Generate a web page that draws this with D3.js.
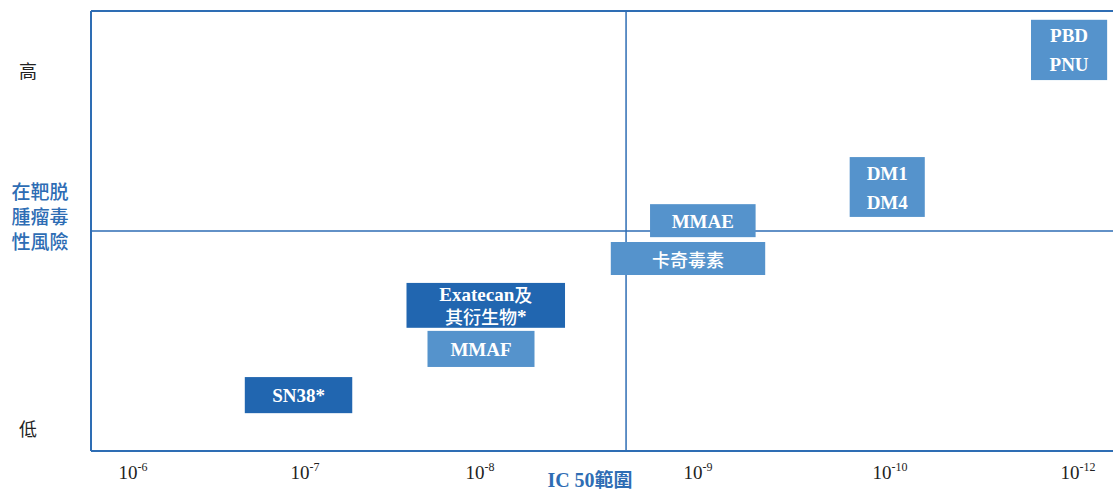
<!DOCTYPE html>
<html><head><meta charset="utf-8">
<script src="https://cdn.jsdelivr.net/npm/d3@7"></script>
<style>body{margin:0;background:#fff}</style>
</head><body>
<svg id="c" width="1113" height="491"></svg>
<script>
// ---- data ----
const payloads = ["SN38*", "Exatecan及|其衍生物*", "MMAF", "MMAE", "卡奇毒素", "DM1|DM4", "PBD|PNU"];
const ic50From = [6.65, 7.58, 7.70, 8.78, 8.60, 9.79, 11.50];   // -log10(IC50) start
const ic50To   = [7.27, 8.39, 8.25, 9.30, 9.35, 10.37, 12.31];  // -log10(IC50) end
const riskLow  = [8.6, 28.0, 19.1, 48.6, 40.0, 53.2, 84.3];      // off-target risk score (0-100)
const riskHigh = [16.8, 38.2, 27.3, 56.1, 47.5, 66.8, 98.0];
const shade    = ["dark", "dark", "light", "light", "light", "light", "light"];
const tickExps = [6, 7, 8, 9, 10, 12];
const tickLabels = ["-6", "-7", "-8", "-9", "-10", "-12"];
const midIC50 = 8.67;
const midRisk = 50;
const riskLabels = [{t: "高", v: 86.6}, {t: "低", v: 5.2}];

// ---- layout ----
(function(){
const svg = d3.select("#c");
const mL = 91, mT = 11, mB = 451, mR = 1113;
const x = d3.scaleLinear().domain(tickExps).range([133, 305, 480, 698, 890, 1078]);
const y = d3.scaleLinear().domain([0, 100]).range([mB, mT]);
const blue = "#2E6DB4";
const col = {dark: "#2166B0", light: "#5593CC"};
const cjk = /[\u3400-\u9fff]/;

// frame
svg.append("line").attr("x1", mL).attr("x2", mR).attr("y1", mT).attr("y2", mT).attr("stroke", blue).attr("stroke-width", 2);
svg.append("line").attr("x1", mL).attr("x2", mL).attr("y1", mT).attr("y2", mB).attr("stroke", blue).attr("stroke-width", 2);
svg.append("line").attr("x1", mL).attr("x2", mR).attr("y1", mB).attr("y2", mB).attr("stroke", blue).attr("stroke-width", 2);
// quadrant lines
svg.append("line").attr("x1", x(midIC50)).attr("x2", x(midIC50)).attr("y1", mT).attr("y2", mB).attr("stroke", blue).attr("stroke-width", 1.5);
svg.append("line").attr("x1", mL).attr("x2", mR).attr("y1", y(midRisk)).attr("y2", y(midRisk)).attr("stroke", blue).attr("stroke-width", 1.5);

// split a string into runs of CJK / non-CJK for mixed font rendering
function runs(s) {
  const out = [];
  for (const ch of s) {
    const c = cjk.test(ch);
    if (out.length && out[out.length - 1].c === c) out[out.length - 1].t += ch;
    else out.push({t: ch, c});
  }
  return out;
}

// boxes
const g = svg.append("g");
payloads.forEach((p, i) => {
  const x0 = x(ic50From[i]), x1 = x(ic50To[i]);
  const y0 = y(riskHigh[i]), y1 = y(riskLow[i]);
  g.append("rect").attr("x", x0).attr("y", y0).attr("width", x1 - x0).attr("height", y1 - y0).attr("fill", col[shade[i]]);
  const lines = p.split("|");
  const cx = (x0 + x1) / 2, cy = (y0 + y1) / 2;
  const lh = (y1 - y0) > 50 ? 29 : 22;
  lines.forEach((ln, k) => {
    const t = g.append("text").attr("x", cx).attr("y", cy + (k - (lines.length - 1) / 2) * lh)
      .attr("text-anchor", "middle").attr("dominant-baseline", "central")
      .attr("fill", "#fff").attr("font-size", 19);
    runs(ln).forEach(r => {
      t.append("tspan").text(r.t)
        .attr("font-family", r.c ? "'Noto Sans CJK TC',sans-serif" : "'Liberation Serif',serif")
        .attr("font-size", r.c ? 18 : 19)
        .attr("font-weight", r.c ? 500 : "bold");
    });
  });
});

// x tick labels
tickExps.forEach((e, i) => {
  const t = svg.append("text").attr("x", x(e)).attr("y", 479).attr("text-anchor", "middle")
    .attr("font-family", "'Liberation Serif',serif").attr("font-size", 19).attr("fill", "#222");
  t.append("tspan").text("10");
  t.append("tspan").attr("dy", -8).attr("font-size", 12).text(tickLabels[i]);
});

// x title
const xt = svg.append("text").attr("x", 590).attr("y", 487).attr("text-anchor", "middle")
  .attr("font-weight", "bold").attr("font-size", 20).attr("fill", blue);
runs("IC 50範圍").forEach(r => {
  xt.append("tspan").text(r.t)
    .attr("font-family", r.c ? "'Noto Sans CJK TC',sans-serif" : "'Liberation Serif',serif")
    .attr("font-size", r.c ? 19 : 20);
});

// y labels
riskLabels.forEach(d => {
  svg.append("text").attr("x", 28).attr("y", y(d.v)).attr("text-anchor", "middle").attr("dominant-baseline", "central")
    .attr("font-family", "'Noto Sans CJK TC',sans-serif").attr("font-size", 18).attr("fill", "#222").text(d.t);
});
["在靶脱", "腫瘤毒", "性風險"].forEach((t, k) => {
  svg.append("text").attr("x", 40).attr("y", 190 + k * 25).attr("text-anchor", "middle").attr("dominant-baseline", "central")
    .attr("font-family", "'Noto Sans CJK TC',sans-serif").attr("font-size", 19).attr("font-weight", 500).attr("fill", blue).text(t);
});
})();
</script>
</body></html>
